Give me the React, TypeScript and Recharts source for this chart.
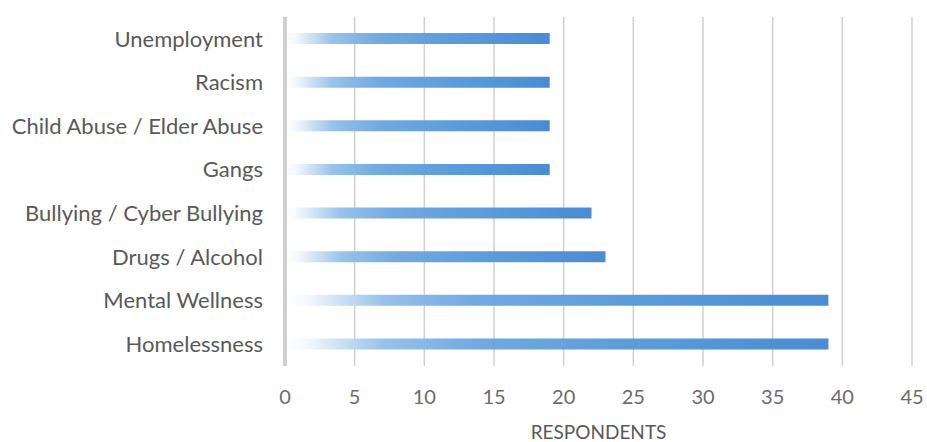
import { Bar, BarChart, CartesianGrid, Label, XAxis, YAxis } from "recharts";

const categories = [
  "Unemployment",
  "Racism",
  "Child Abuse / Elder Abuse",
  "Gangs",
  "Bullying / Cyber Bullying",
  "Drugs / Alcohol",
  "Mental Wellness",
  "Homelessness",
];
const respondents = [19, 19, 19, 19, 22, 23, 39, 39];
const xTicks = [0, 5, 10, 15, 20, 25, 30, 35, 40, 45];

const data = categories.map((issue, i) => ({ issue, respondents: respondents[i] }));

const FONT = "Lato, 'Open Sans', sans-serif";
const TEXT = "#595959";

export default function App() {
  return (
    <div style={{ position: "absolute", left: 0, top: 0, width: 927, height: 442, background: "#ffffff" }}>
      <BarChart
        width={927}
        height={442}
        data={data}
        layout="vertical"
        margin={{ top: 17, right: 15, left: 0, bottom: 0 }}
        barCategoryGap={0}
      >
        <defs>
          <linearGradient id="barFade" x1="0" y1="0" x2="1" y2="0">
            <stop offset="0" stopColor="#ffffff" />
            <stop offset="0.04" stopColor="#f4f8fd" />
            <stop offset="0.18" stopColor="#98c2ea" />
            <stop offset="0.35" stopColor="#72aae0" />
            <stop offset="0.6" stopColor="#5f9edb" />
            <stop offset="1" stopColor="#4a8bd3" />
          </linearGradient>
        </defs>
        <CartesianGrid horizontal={false} stroke="#d0d0d0" strokeWidth={1.5} />
        <XAxis
          type="number"
          domain={[0, 45]}
          ticks={xTicks}
          height={76}
          axisLine={false}
          tickLine={false}
          tickSize={0}
          tickMargin={24}
          tick={{ fontFamily: FONT, fontSize: 20, fill: "#6b6b6b" }}
        >
          <Label
            value="RESPONDENTS"
            position="insideBottom"
            offset={3}
            style={{ fontFamily: FONT, fontSize: 19, fill: TEXT }}
          />
        </XAxis>
        <YAxis
          type="category"
          dataKey="issue"
          width={285}
          axisLine={{ stroke: "#d0d0d0", strokeWidth: 4 }}
          tickLine={false}
          tickSize={0}
          tickMargin={22}
          interval={0}
          tick={{ fontFamily: FONT, fontSize: 22, fill: TEXT }}
        />
        <Bar dataKey="respondents" fill="url(#barFade)" barSize={11} isAnimationActive={false} />
      </BarChart>
    </div>
  );
}
